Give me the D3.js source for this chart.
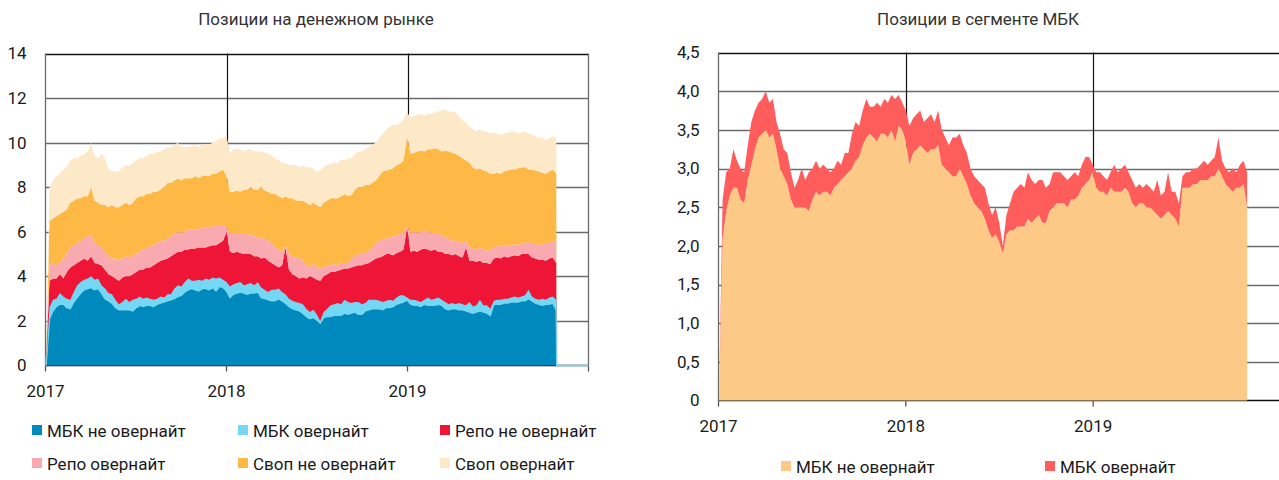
<!DOCTYPE html>
<html>
<head>
<meta charset="utf-8">
<script src="https://cdn.jsdelivr.net/npm/d3@7"></script>
<style>
body { margin: 0; background: #fff; }
svg { display: block; font-family: Roboto, "Noto Sans", sans-serif; }
</style>
</head>
<body>
<svg id="chart" width="1279" height="480"></svg>
<script>

// weekly observations, first one on 2017-01-02
const startDate = new Date(2017, 0, 2);

const mbkNon = [0, 2.1, 2.45, 2.65, 2.75, 2.75, 2.6, 2.55, 2.85, 3.05,
  3.25, 3.4, 3.45, 3.5, 3.4, 3.45, 3.25, 3.0, 2.9, 2.8,
  2.6, 2.5, 2.5, 2.5, 2.5, 2.45, 2.6, 2.7, 2.65, 2.7,
  2.7, 2.65, 2.75, 2.8, 2.85, 2.9, 2.95, 3.0, 3.1, 3.15,
  3.3, 3.4, 3.45, 3.4, 3.35, 3.45, 3.45, 3.4, 3.5, 3.35,
  3.55, 3.5, 3.35, 3.05, 3.2, 3.25, 3.3, 3.25, 3.2, 3.25,
  3.25, 3.3, 3.05, 3.0, 2.95, 2.9, 2.9, 3.0, 2.9, 2.8,
  2.65, 2.55, 2.5, 2.45, 2.35, 2.2, 2.1, 2.15, 2.05, 1.9,
  2.15, 2.2, 2.2, 2.25, 2.25, 2.25, 2.35, 2.3, 2.35, 2.4,
  2.3, 2.3, 2.45, 2.5, 2.55, 2.55, 2.55, 2.5, 2.6, 2.6,
  2.65, 2.75, 2.8, 2.85, 2.95, 2.75, 2.7, 2.7, 2.65, 2.75,
  2.7, 2.7, 2.7, 2.75, 2.7, 2.55, 2.5, 2.55, 2.55, 2.5,
  2.5, 2.45, 2.4, 2.35, 2.4, 2.45, 2.4, 2.35, 2.25, 2.75,
  2.75, 2.75, 2.8, 2.8, 2.85, 2.85, 2.85, 2.9, 2.9, 3.0,
  2.9, 2.8, 2.75, 2.7, 2.75, 2.75, 2.8, 2.5];

const mbkOn = [0, 0.5, 0.5, 0.35, 0.5, 0.35, 0.4, 0.4, 0.45, 0.55,
  0.5, 0.45, 0.45, 0.5, 0.45, 0.45, 0.35, 0.45, 0.35, 0.4,
  0.35, 0.25, 0.35, 0.5, 0.35, 0.5, 0.4, 0.4, 0.35, 0.35,
  0.3, 0.3, 0.25, 0.3, 0.2, 0.3, 0.25, 0.45, 0.5, 0.4,
  0.45, 0.5, 0.35, 0.4, 0.5, 0.35, 0.45, 0.45, 0.45, 0.55,
  0.4, 0.35, 0.4, 0.5, 0.45, 0.45, 0.45, 0.35, 0.45, 0.45,
  0.35, 0.45, 0.45, 0.4, 0.35, 0.5, 0.5, 0.45, 0.4, 0.4,
  0.35, 0.35, 0.35, 0.35, 0.4, 0.35, 0.3, 0.35, 0.25, 0.1,
  0.25, 0.35, 0.5, 0.5, 0.55, 0.5, 0.6, 0.55, 0.45, 0.45,
  0.55, 0.45, 0.35, 0.45, 0.4, 0.4, 0.35, 0.35, 0.3, 0.35,
  0.25, 0.3, 0.35, 0.3, 0.1, 0.2, 0.25, 0.2, 0.2, 0.2,
  0.35, 0.25, 0.3, 0.3, 0.25, 0.3, 0.25, 0.25, 0.2, 0.3,
  0.25, 0.25, 0.45, 0.3, 0.3, 0.5, 0.3, 0.35, 0.3, 0.15,
  0.2, 0.2, 0.2, 0.2, 0.2, 0.25, 0.2, 0.2, 0.25, 0.4,
  0.2, 0.2, 0.2, 0.3, 0.2, 0.3, 0.3, 0.45];

const repoNon = [0, 1.2, 0.95, 0.9, 0.85, 0.8, 1.2, 1.45, 1.2, 1.0,
  0.95, 0.95, 0.8, 0.9, 0.75, 0.65, 0.9, 0.85, 0.85, 0.8,
  0.95, 1.05, 1.1, 1.0, 1.15, 1.15, 1.2, 1.2, 1.3, 1.35,
  1.4, 1.55, 1.6, 1.6, 1.7, 1.6, 1.7, 1.55, 1.5, 1.55,
  1.45, 1.3, 1.45, 1.45, 1.45, 1.5, 1.4, 1.5, 1.45, 1.5,
  1.55, 1.75, 2.25, 1.55, 1.4, 1.4, 1.3, 1.4, 1.35, 1.3,
  1.3, 1.15, 1.3, 1.45, 1.4, 1.2, 1.1, 0.95, 1.2, 2.1,
  1.3, 1.2, 1.15, 1.1, 1.2, 1.35, 1.6, 1.45, 1.55, 1.8,
  1.6, 1.55, 1.5, 1.45, 1.45, 1.55, 1.4, 1.5, 1.6, 1.6,
  1.65, 1.75, 1.75, 1.65, 1.75, 1.85, 1.95, 2.05, 2.1, 2.05,
  2.05, 2.0, 1.95, 2.05, 3.15, 2.15, 2.2, 2.2, 2.35, 2.3,
  2.15, 2.2, 2.2, 2.05, 2.15, 2.15, 2.25, 2.15, 2.25, 2.1,
  2.1, 2.6, 1.85, 2.05, 1.95, 1.75, 1.9, 1.9, 2.0, 1.9,
  1.9, 1.85, 1.9, 1.85, 1.85, 1.85, 1.85, 1.9, 1.85, 1.6,
  1.75, 1.8, 1.8, 1.75, 1.75, 1.75, 1.75, 1.65];

const repoOn = [0, 0.7, 0.7, 0.6, 0.5, 0.9, 0.8, 0.9, 0.9, 0.9,
  0.9, 0.9, 1.1, 1.0, 0.9, 0.85, 0.8, 0.8, 0.8, 0.8,
  0.9, 0.9, 0.85, 0.9, 0.85, 0.85, 0.8, 0.8, 0.9, 0.9,
  0.95, 0.9, 0.9, 0.9, 0.85, 0.9, 0.9, 0.9, 0.9, 0.85,
  0.8, 0.9, 0.85, 0.85, 0.8, 0.9, 0.9, 0.85, 0.85, 0.9,
  0.8, 0.7, 0.2, 0.85, 0.85, 0.8, 0.85, 0.95, 0.85, 0.9,
  0.9, 0.85, 0.9, 0.85, 0.9, 0.9, 0.8, 0.8, 0.6, 0.1,
  0.7, 0.8, 0.8, 0.95, 0.75, 0.6, 0.4, 0.65, 0.55, 0.55,
  0.4, 0.4, 0.3, 0.35, 0.25, 0.3, 0.25, 0.25, 0.4, 0.45,
  0.5, 0.5, 0.5, 0.55, 0.6, 0.7, 0.75, 0.75, 0.7, 0.75,
  0.85, 0.8, 0.8, 0.75, 0.05, 0.85, 0.85, 0.85, 0.8, 0.8,
  0.8, 0.8, 0.7, 0.85, 0.75, 0.75, 0.7, 0.65, 0.6, 0.65,
  0.65, 0.3, 0.6, 0.55, 0.55, 0.6, 0.6, 0.55, 0.65, 0.5,
  0.5, 0.55, 0.5, 0.5, 0.5, 0.5, 0.5, 0.5, 0.5, 0.55,
  0.6, 0.65, 0.65, 0.7, 0.8, 0.7, 0.75, 0.9];

const swapNon = [0, 2.0, 2.0, 2.2, 2.2, 2.1, 2.0, 2.0, 2.0, 2.0,
  1.9, 1.9, 1.8, 2.1, 1.9, 1.9, 1.9, 2.1, 2.2, 2.4,
  2.3, 2.4, 2.4, 2.4, 2.35, 2.35, 2.5, 2.5, 2.4, 2.4,
  2.35, 2.4, 2.3, 2.3, 2.4, 2.5, 2.4, 2.4, 2.4, 2.35,
  2.4, 2.3, 2.3, 2.4, 2.3, 2.3, 2.3, 2.3, 2.35, 2.3,
  2.4, 2.5, 2.3, 1.85, 1.9, 1.95, 1.9, 1.95, 2.05, 2.1,
  2.1, 2.15, 2.3, 2.15, 2.2, 2.2, 2.4, 2.4, 2.4, 2.2,
  2.5, 2.6, 2.6, 2.55, 2.7, 2.8, 2.8, 2.7, 2.8, 2.75,
  2.9, 2.9, 3.0, 2.95, 3.0, 3.0, 3.1, 3.0, 2.85, 3.0,
  3.0, 3.0, 3.05, 2.95, 2.9, 2.8, 2.9, 3.05, 3.05, 3.05,
  3.05, 3.15, 3.15, 3.25, 4.05, 3.55, 3.55, 3.65, 3.65, 3.55,
  3.7, 3.75, 3.85, 3.75, 3.75, 3.9, 3.9, 3.95, 3.9, 3.85,
  3.8, 3.6, 3.8, 3.65, 3.6, 3.55, 3.55, 3.55, 3.4, 3.3,
  3.3, 3.25, 3.3, 3.4, 3.4, 3.35, 3.45, 3.4, 3.4, 3.25,
  3.35, 3.3, 3.3, 3.2, 3.1, 3.2, 3.2, 3.1];

const swapOn = [0, 1.5, 1.7, 1.8, 1.8, 1.9, 1.9, 1.9, 1.9, 1.8,
  1.9, 1.9, 2.0, 2.0, 2.0, 2.0, 2.3, 2.1, 1.7, 1.5,
  1.6, 1.6, 1.7, 1.7, 1.75, 1.8, 1.7, 1.7, 1.7, 1.7,
  1.8, 1.7, 1.8, 1.7, 1.7, 1.6, 1.55, 1.6, 1.6, 1.5,
  1.4, 1.4, 1.45, 1.4, 1.4, 1.4, 1.45, 1.4, 1.4, 1.5,
  1.5, 1.4, 1.8, 1.7, 1.9, 1.9, 1.9, 1.7, 1.8, 1.7,
  1.7, 1.7, 1.6, 1.7, 1.7, 1.7, 1.6, 1.6, 1.6, 1.5,
  1.5, 1.5, 1.6, 1.5, 1.55, 1.6, 1.7, 1.55, 1.5, 1.65,
  1.6, 1.6, 1.55, 1.6, 1.55, 1.65, 1.5, 1.7, 1.65, 1.6,
  1.6, 1.6, 1.6, 1.7, 1.7, 1.7, 1.7, 1.7, 1.85, 1.9,
  1.95, 1.8, 1.85, 1.8, 1.1, 1.6, 1.65, 1.65, 1.65, 1.6,
  1.6, 1.6, 1.6, 1.7, 1.85, 1.85, 1.8, 1.85, 1.85, 1.8,
  1.7, 1.7, 1.6, 1.7, 1.7, 1.75, 1.75, 1.8, 1.8, 1.85,
  1.75, 1.75, 1.7, 1.7, 1.7, 1.7, 1.55, 1.55, 1.6, 1.6,
  1.55, 1.55, 1.5, 1.6, 1.5, 1.5, 1.5, 1.6];

// after the last observation the money-market series sit at zero until year end
const tailDates = [new Date(2019, 9, 29), new Date(2020, 0, 1)];

const yearTicks = [new Date(2017, 0, 1), new Date(2018, 0, 1), new Date(2019, 0, 1), new Date(2020, 0, 1)];
const yearLabels = ["2017", "2018", "2019"];

const leftTicks = [0, 2, 4, 6, 8, 10, 12, 14];
const leftTickLabels = ["0", "2", "4", "6", "8", "10", "12", "14"];
const rightTicks = [0, 0.5, 1, 1.5, 2, 2.5, 3, 3.5, 4, 4.5];
const rightTickLabels = ["0", "0,5", "1,0", "1,5", "2,0", "2,5", "3,0", "3,5", "4,0", "4,5"];

const leftKeys = ["mbkNon", "mbkOn", "repoNon", "repoOn", "swapNon", "swapOn"];
const leftNames = ["МБК не овернайт", "МБК овернайт", "Репо не овернайт", "Репо овернайт", "Своп не овернайт", "Своп овернайт"];
const leftColors = ["#0089bc", "#74d8f5", "#ee1537", "#f9aab0", "#fdb845", "#fde8c8"];

const rightKeys = ["mbkNon", "mbkOn"];
const rightNames = ["МБК не овернайт", "МБК овернайт"];
const rightColors = ["#fdc987", "#ff5c5c"];

const series = { mbkNon, mbkOn, repoNon, repoOn, swapNon, swapOn };

const dates = mbkNon.map((d, i) => d3.timeDay.offset(startDate, 7 * i));
const rows = dates.map((date, i) => {
  const r = { date };
  leftKeys.forEach(k => r[k] = series[k][i]);
  return r;
});
const leftRows = rows.concat(tailDates.map(date => {
  const r = { date };
  leftKeys.forEach(k => r[k] = 0);
  return r;
}));

const svg = d3.select("#chart");
const textColor = "#1a1a1a";

function panel(o) {
  const g = svg.append("g");
  const x = d3.scaleTime().domain([yearTicks[0], yearTicks[3]]).range([o.x0, o.x1]);
  const y = d3.scaleLinear().domain([0, o.yMax]).range([o.yBottom, o.yTop]);

  g.append("text")
    .attr("x", o.titleX).attr("y", 25)
    .attr("text-anchor", "middle")
    .attr("font-size", 17)
    .attr("fill", "#333")
    .text(o.title);

  // horizontal grid
  g.selectAll(".hgrid").data(o.ticks.filter(t => t > 0))
    .enter().append("line")
    .attr("x1", o.x0).attr("x2", o.x1)
    .attr("y1", d => Math.round(y(d)) + 0.5).attr("y2", d => Math.round(y(d)) + 0.5)
    .attr("stroke", d => d === o.yMax ? "#111" : "#6b6b6b")
    .attr("stroke-width", 1.3);

  // year lines
  g.selectAll(".vgrid").data(yearTicks.slice(1, 3))
    .enter().append("line")
    .attr("x1", d => Math.round(x(d)) + 0.5).attr("x2", d => Math.round(x(d)) + 0.5)
    .attr("y1", y(o.yMax)).attr("y2", y(0))
    .attr("stroke", "#111").attr("stroke-width", 1.2);

  // side borders
  [o.x0, o.x1].forEach(px => {
    g.append("line")
      .attr("x1", px).attr("x2", px)
      .attr("y1", y(o.yMax)).attr("y2", y(0))
      .attr("stroke", "#6b6b6b").attr("stroke-width", 1.3);
  });

  // x axis line and ticks (under the areas)
  g.append("line")
    .attr("x1", o.x0).attr("x2", o.x1)
    .attr("y1", y(0)).attr("y2", y(0))
    .attr("stroke", "#111").attr("stroke-width", 1.3);
  g.selectAll(".xtick").data(yearTicks)
    .enter().append("line")
    .attr("x1", d => x(d)).attr("x2", d => x(d))
    .attr("y1", y(0)).attr("y2", y(0) + 6)
    .attr("stroke", "#555").attr("stroke-width", 1.3);

  const stack = d3.stack().keys(o.keys);
  const layers = stack(o.rows);
  const area = d3.area()
    .x(d => x(d.data.date))
    .y0(d => y(d[0]))
    .y1(d => y(d[1]));

  g.selectAll(".layer").data(layers)
    .enter().append("path")
    .attr("d", area)
    .attr("fill", (d, i) => o.colors[i])
    .attr("stroke", (d, i) => o.strokeKey === d.key ? o.colors[i] : "none")
    .attr("stroke-width", 1.5);

  g.selectAll(".xlab").data(yearLabels)
    .enter().append("text")
    .attr("x", (d, i) => x(yearTicks[i]))
    .attr("y", y(0) + 31)
    .attr("text-anchor", "middle")
    .attr("font-size", 17)
    .attr("fill", textColor)
    .text(d => d);

  g.selectAll(".ylab").data(o.ticks)
    .enter().append("text")
    .attr("x", o.x0 - 19)
    .attr("y", d => y(d))
    .attr("dy", "0.35em")
    .attr("text-anchor", "end")
    .attr("font-size", 17)
    .attr("fill", textColor)
    .text((d, i) => o.tickLabels[i]);

  // legend
  const lg = g.selectAll(".leg").data(o.keys)
    .enter().append("g")
    .attr("transform", (d, i) => `translate(${o.legendX[i % o.legendX.length]},${o.legendY[Math.floor(i / o.legendX.length)]})`);
  lg.append("rect")
    .attr("x", 0).attr("y", -12).attr("width", 10).attr("height", 10)
    .attr("fill", (d, i) => o.colors[i]);
  lg.append("text")
    .attr("x", 15).attr("y", 0)
    .attr("font-size", 17)
    .attr("fill", textColor)
    .text((d, i) => o.names[i]);
}

panel({
  title: "Позиции на денежном рынке", titleX: 316,
  x0: 45.5, x1: 588.5, yTop: 53.5, yBottom: 365.5, yMax: 14,
  ticks: leftTicks, tickLabels: leftTickLabels,
  keys: leftKeys, names: leftNames, colors: leftColors,
  rows: leftRows, strokeKey: "mbkOn",
  legendX: [32, 238, 440], legendY: [437, 470]
});

panel({
  title: "Позиции в сегменте МБК", titleX: 978,
  x0: 718.5, x1: 1280.5, yTop: 52.5, yBottom: 400.5, yMax: 4.5,
  ticks: rightTicks, tickLabels: rightTickLabels,
  keys: rightKeys, names: rightNames, colors: rightColors,
  rows: rows, strokeKey: null,
  legendX: [781, 1045], legendY: [473]
});

</script>
</body>
</html>
